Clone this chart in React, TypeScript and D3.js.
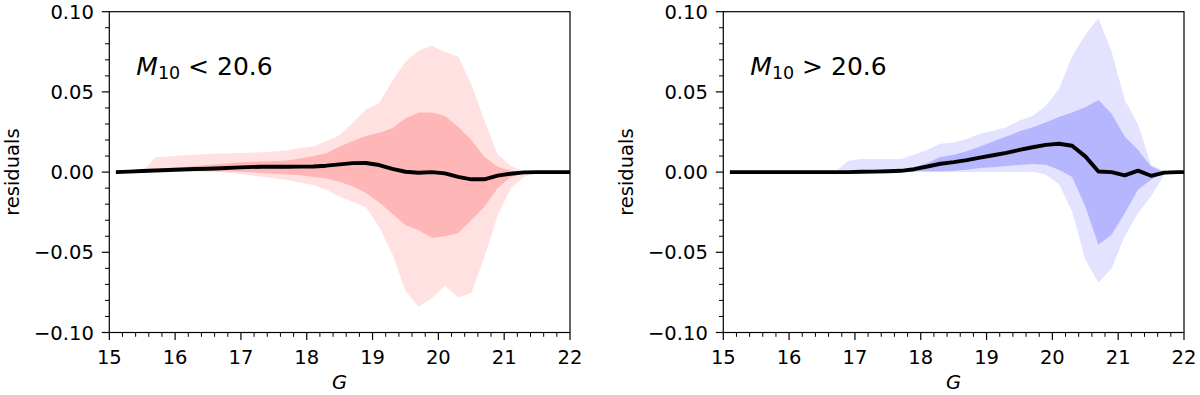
import React from "react";
import * as d3 from "d3";

// magnitude bins (G)
const G = [15.1, 15.3, 15.5, 15.7, 15.9, 16.1, 16.3, 16.5, 16.7, 16.9, 17.1, 17.3, 17.5, 17.7, 17.9, 18.1, 18.3, 18.5, 18.7, 18.9, 19.1, 19.3, 19.5, 19.7, 19.9, 20.1, 20.3, 20.5, 20.7, 20.9, 21.1, 21.3, 21.5, 21.7, 21.9, 22.1];

// Left panel: M10 < 20.6
const leftMean = [0, 0.0003, 0.0007, 0.001, 0.0013, 0.0016, 0.0019, 0.0021, 0.0024, 0.0028, 0.0031, 0.0033, 0.0033, 0.0033, 0.0034, 0.0035, 0.004, 0.0048, 0.0056, 0.0057, 0.0044, 0.002, 0.0002, -0.0004, 0.0, -0.0008, -0.003, -0.0045, -0.0045, -0.0022, -0.001, -0.0002, 0, 0, 0, 0];
const leftOuterHi = [0, 0, 0, 0.0093, 0.0098, 0.0103, 0.0108, 0.0113, 0.0116, 0.0118, 0.012, 0.0123, 0.0128, 0.0135, 0.015, 0.0159, 0.0194, 0.023, 0.031, 0.039, 0.043, 0.057, 0.069, 0.0757, 0.0787, 0.0748, 0.072, 0.055, 0.032, 0.011, 0.004, 0.0003, 0, 0, 0, 0];
const leftOuterLo = [0, 0, 0, 0.0005, 0.0005, 0.0005, 0.0005, 0.0003, 0, -0.0008, -0.0018, -0.0028, -0.0038, -0.005, -0.0066, -0.008, -0.011, -0.0153, -0.0185, -0.022, -0.034, -0.051, -0.074, -0.084, -0.0787, -0.0708, -0.078, -0.0756, -0.053, -0.027, -0.0102, -0.003, 0, 0, 0, 0];
const leftInnerHi = [0, 0, 0, 0.001, 0.0025, 0.003, 0.0038, 0.0044, 0.005, 0.0058, 0.0063, 0.0066, 0.0068, 0.0072, 0.0085, 0.01, 0.0117, 0.0159, 0.0194, 0.0225, 0.0246, 0.0273, 0.0335, 0.0372, 0.0372, 0.035, 0.0283, 0.02, 0.0096, 0.0034, 0.0008, 0, 0, 0, 0, 0];
const leftInnerLo = [0, 0, 0, 0.0005, 0.0005, 0.0005, 0.0005, 0.0005, 0.0005, 0.0003, 0, -0.0005, -0.001, -0.0015, -0.002, -0.003, -0.004, -0.006, -0.009, -0.013, -0.019, -0.026, -0.033, -0.0362, -0.041, -0.04, -0.038, -0.03, -0.0216, -0.01, -0.003, -0.0005, 0, 0, 0, 0];

// Right panel: M10 > 20.6
const rightMean = [0, 0, 0, 0, 0, 0, 0, 0, 0, 0, 0.0002, 0.0003, 0.0005, 0.0008, 0.0018, 0.0035, 0.0052, 0.0062, 0.0075, 0.009, 0.0105, 0.012, 0.0138, 0.0155, 0.017, 0.0177, 0.0164, 0.0098, 0.0004, 0, -0.002, 0.0009, -0.0023, -0.0003, 0, 0];
const rightOuterHi = [0, 0, 0, 0, 0, 0, 0, 0, 0, 0.0071, 0.0081, 0.0082, 0.0082, 0.0082, 0.011, 0.014, 0.0177, 0.0185, 0.0206, 0.0239, 0.0258, 0.028, 0.0322, 0.035, 0.0414, 0.0518, 0.072, 0.0857, 0.096, 0.075, 0.045, 0.03, 0.0046, 0.0004, 0, 0];
const rightOuterLo = [0, 0, 0, 0, 0, 0, 0, 0, 0, 0, 0, 0, 0, 0, 0, 0, 0, 0, 0, 0, 0, 0, 0, 0.0002, -0.0015, -0.0075, -0.0245, -0.0547, -0.069, -0.06, -0.04, -0.0256, -0.015, -0.0017, 0, 0];
const rightInnerHi = [0, 0, 0, 0, 0, 0, 0, 0, 0, 0, 0, 0, 0, 0.0008, 0.003, 0.0056, 0.0094, 0.0108, 0.013, 0.016, 0.019, 0.0222, 0.0254, 0.028, 0.031, 0.0343, 0.0372, 0.0405, 0.045, 0.0364, 0.0222, 0.014, 0.0035, 0, 0, 0];
const rightInnerLo = [0, 0, 0, 0, 0, 0, 0, 0, 0, 0, 0, 0, 0, 0.0005, 0.0005, 0.0005, 0.0005, 0.0008, 0.0015, 0.0025, 0.003, 0.0038, 0.0045, 0.005, 0.0046, 0.0015, -0.003, -0.0214, -0.0453, -0.039, -0.0256, -0.011, -0.0048, -0.0006, 0, 0];

// Ticks
const xTicks = [15, 16, 17, 18, 19, 20, 21, 22];
const xTickLabels = ["15", "16", "17", "18", "19", "20", "21", "22"];
const yTicks = [-0.1, -0.05, 0, 0.05, 0.1];
const yTickLabels = ["\u22120.10", "\u22120.05", "0.00", "0.05", "0.10"];

const FONT = "'DejaVu Sans', Verdana, sans-serif";
const TOP = 11.7;
const BOTTOM = 332.5;
const WIDTH = 460.7;

type PanelProps = {
  id: string;
  left: number;
  mean: number[];
  outerHi: number[];
  outerLo: number[];
  innerHi: number[];
  innerLo: number[];
  light: string;
  dark: string;
  sign: string;
};

function Panel({ id, left, mean, outerHi, outerLo, innerHi, innerLo, light, dark, sign }: PanelProps) {
  const x = d3.scaleLinear().domain([15, 22]).range([left, left + WIDTH]);
  const y = d3.scaleLinear().domain([-0.1, 0.1]).range([BOTTOM, TOP]);
  const idx = G.map((_, i) => i);
  const band = (lo: number[], hi: number[]) =>
    d3
      .area<number>()
      .x((i) => x(G[i]))
      .y0((i) => y(lo[i]))
      .y1((i) => y(hi[i]))(idx) || "";
  const line =
    d3
      .line<number>()
      .x((i) => x(G[i]))
      .y((i) => y(mean[i]))(idx) || "";
  const xMinor = d3.range(15, 22.001, 0.2).filter((v) => Math.abs(v - Math.round(v)) > 0.01);
  const yMinor = d3.range(-0.1, 0.1001, 0.01).filter((v) => Math.abs(v * 20 - Math.round(v * 20)) > 0.01);
  const fs = 19.5;
  return (
    <g>
      <defs>
        <clipPath id={id}>
          <rect x={left} y={TOP} width={WIDTH} height={BOTTOM - TOP} />
        </clipPath>
      </defs>
      <g clipPath={`url(#${id})`}>
        <path d={band(outerLo, outerHi)} fill={light} />
        <path d={band(innerLo, innerHi)} fill={dark} />
        <path d={line} fill="none" stroke="#000" strokeWidth={3.9} strokeLinejoin="round" />
      </g>
      <rect x={left} y={TOP} width={WIDTH} height={BOTTOM - TOP} fill="none" stroke="#000" strokeWidth={1.2} />
      {xTicks.map((t, i) => (
        <g key={"xt" + t}>
          <line x1={x(t)} x2={x(t)} y1={BOTTOM} y2={BOTTOM + 7.5} stroke="#000" strokeWidth={1.2} />
          <text x={x(t)} y={363.5} textAnchor="middle" fontFamily={FONT} fontSize={fs}>
            {xTickLabels[i]}
          </text>
        </g>
      ))}
      {xMinor.map((t) => (
        <line key={"xm" + t} x1={x(t)} x2={x(t)} y1={BOTTOM} y2={BOTTOM + 4.3} stroke="#000" strokeWidth={1} />
      ))}
      {yTicks.map((t, i) => (
        <g key={"yt" + t}>
          <line x1={left - 7.5} x2={left} y1={y(t)} y2={y(t)} stroke="#000" strokeWidth={1.2} />
          <text x={left - 15.5} y={y(t) + 7} textAnchor="end" fontFamily={FONT} fontSize={fs}>
            {yTickLabels[i]}
          </text>
        </g>
      ))}
      {yMinor.map((t) => (
        <line key={"ym" + t} x1={left - 4.3} x2={left} y1={y(t)} y2={y(t)} stroke="#000" strokeWidth={1} />
      ))}
      <text
        transform={`translate(${left - 90},${(TOP + BOTTOM) / 2}) rotate(-90)`}
        textAnchor="middle"
        fontFamily={FONT}
        fontSize={fs}
      >
        residuals
      </text>
      <text x={left + WIDTH / 2} y={389} textAnchor="middle" fontFamily={FONT} fontSize={fs} fontStyle="italic">
        G
      </text>
      <text x={left + 27} y={75} fontFamily={FONT} fontSize={25}>
        <tspan fontStyle="italic">M</tspan>
        <tspan fontSize={17.5} dy={4}>10</tspan>
        <tspan dy={-4}>{" " + sign + " 20.6"}</tspan>
      </text>
    </g>
  );
}

export default function App() {
  return (
    <svg
      width={1200}
      height={395}
      style={{ position: "absolute", left: 0, top: 0, display: "block", background: "#fff" }}
    >
      <rect x={0} y={0} width={1200} height={395} fill="#fff" />
      <Panel
        id="clipL"
        left={109.3}
        mean={leftMean}
        outerHi={leftOuterHi}
        outerLo={leftOuterLo}
        innerHi={leftInnerHi}
        innerLo={leftInnerLo}
        light="#ffe1e1"
        dark="#ffb6b6"
        sign="<"
      />
      <Panel
        id="clipR"
        left={723.3}
        mean={rightMean}
        outerHi={rightOuterHi}
        outerLo={rightOuterLo}
        innerHi={rightInnerHi}
        innerLo={rightInnerLo}
        light="#e3e3ff"
        dark="#b6b6ff"
        sign=">"
      />
    </svg>
  );
}
